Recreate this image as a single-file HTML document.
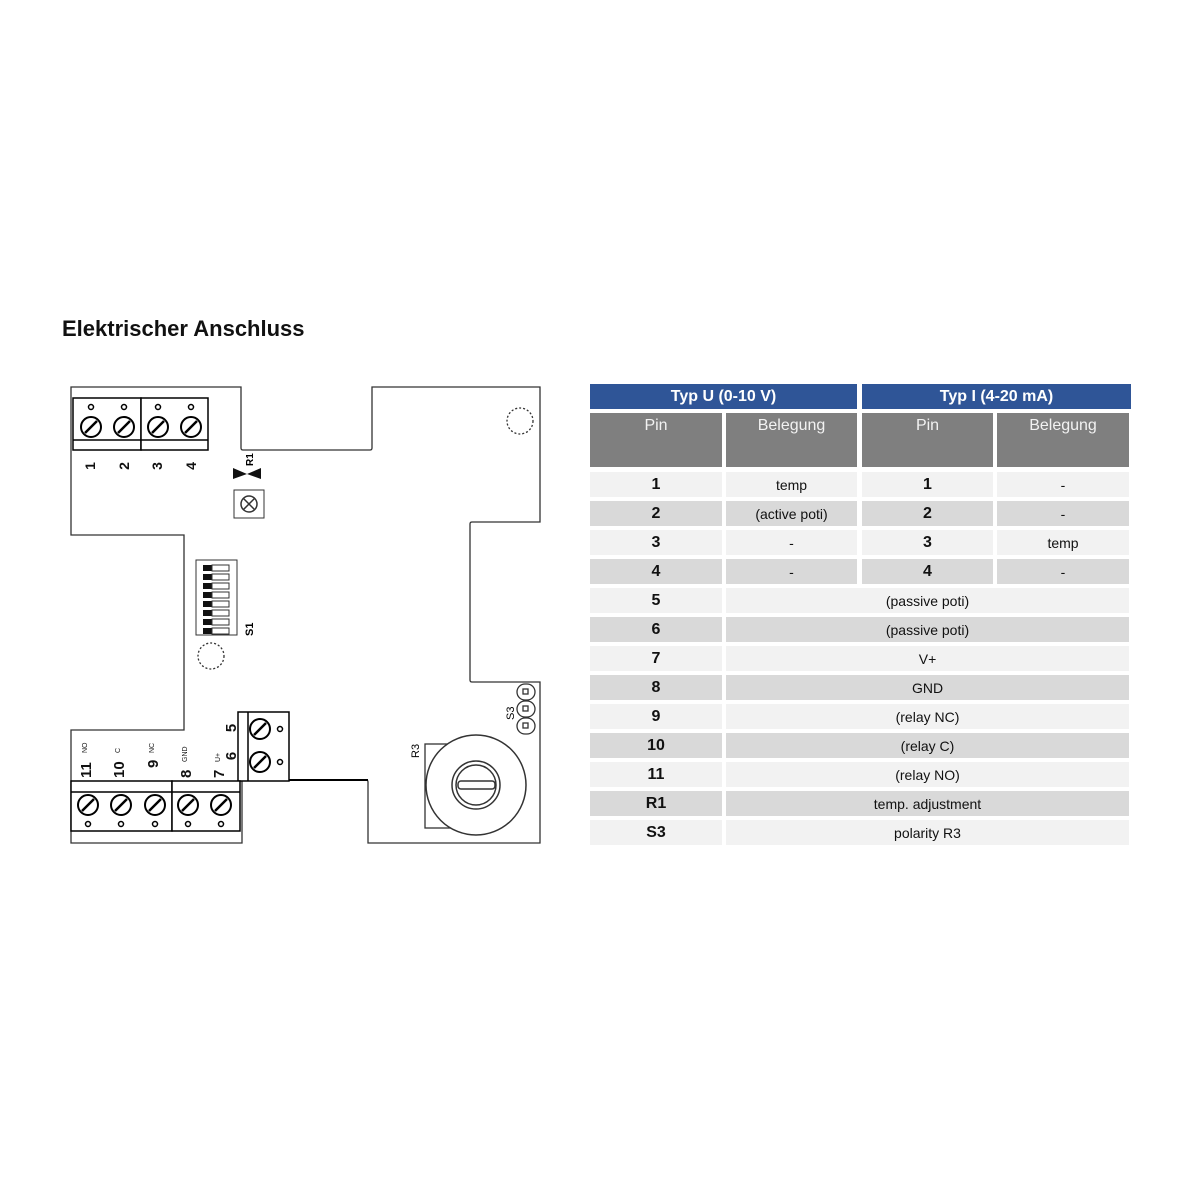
<!DOCTYPE html>
<html><head><meta charset="utf-8"><style>
body{margin:0;width:1200px;height:1200px;background:#fff;position:relative;font-family:"Liberation Sans",Arial,sans-serif;overflow:hidden}
h1{position:absolute;left:62px;top:316px;margin:0;font-size:22px;font-weight:bold;color:#111}
.c{position:absolute;display:flex;align-items:center;justify-content:center;font-size:14px;color:#111}
.b{font-weight:bold;font-size:16px}
.hb{background:#2f5597;color:#fff;font-weight:bold;font-size:16px}
.hg{background:#7f7f7f;color:#f2f2f2;font-size:16px;align-items:flex-start;padding-top:4px;box-sizing:border-box}
.l{background:#f2f2f2}.d{background:#d9d9d9}
</style></head><body>
<h1>Elektrischer Anschluss</h1>
<svg width="1200" height="1200" style="position:absolute;left:0;top:0" font-family="Liberation Sans, sans-serif">
<g fill="none" stroke="#333" stroke-width="1.3">
<path d="M71,387 H241 V448 Q241,450 243,450 H370 Q372,450 372,448 V387 H540 V522 H472 Q470,522 470,524 V680 Q470,682 472,682 H540 V843 H368 V782 Q368,780 366,780 H242 V843 H71 V730 H184 V535 H71 Z"/>
<circle cx="520" cy="421" r="13" stroke-dasharray="2,2"/>
<circle cx="211" cy="656" r="13" stroke-dasharray="2,2"/>
</g>
<!-- top terminal -->
<g stroke="#000" fill="#fff" stroke-width="1.5">
<rect x="73" y="398" width="68" height="52"/><rect x="141" y="398" width="67" height="52"/>
<line x1="73" y1="440" x2="208" y2="440"/>
<g stroke-width="2"><circle cx="91" cy="427" r="10"/><circle cx="124" cy="427" r="10"/><circle cx="158" cy="427" r="10"/><circle cx="191" cy="427" r="10"/></g>
<g stroke-width="2.5"><line x1="85" y1="433" x2="97" y2="421"/><line x1="118" y1="433" x2="130" y2="421"/><line x1="152" y1="433" x2="164" y2="421"/><line x1="185" y1="433" x2="197" y2="421"/></g>
<circle cx="91" cy="407" r="2.5"/><circle cx="124" cy="407" r="2.5"/><circle cx="158" cy="407" r="2.5"/><circle cx="191" cy="407" r="2.5"/>
</g>
<g font-size="14" font-weight="bold" fill="#111">
<text transform="translate(95,466) rotate(-90)" text-anchor="middle">1</text>
<text transform="translate(129,466) rotate(-90)" text-anchor="middle">2</text>
<text transform="translate(162,466) rotate(-90)" text-anchor="middle">3</text>
<text transform="translate(196,466) rotate(-90)" text-anchor="middle">4</text>
</g>
<!-- R1 -->
<path d="M233,468 L247,474 L261,468 V479 L247,474 L233,479 Z" fill="#111"/>
<text transform="translate(253,466) rotate(-90)" font-size="10" font-weight="bold">R1</text>
<rect x="234" y="490" width="30" height="28" fill="#fff" stroke="#333"/>
<circle cx="249" cy="504" r="8" fill="none" stroke="#333" stroke-width="1.5"/>
<path d="M243,498 L255,510 M255,498 L243,510" stroke="#333" stroke-width="1.5"/>
<!-- S1 -->
<rect x="196" y="560" width="41" height="75" fill="#fff" stroke="#333"/>
<g fill="#111">
<rect x="203" y="565" width="9" height="6"/><rect x="203" y="574" width="9" height="6"/><rect x="203" y="583" width="9" height="6"/><rect x="203" y="592" width="9" height="6"/><rect x="203" y="601" width="9" height="6"/><rect x="203" y="610" width="9" height="6"/><rect x="203" y="619" width="9" height="6"/><rect x="203" y="628" width="9" height="6"/>
</g>
<g fill="none" stroke="#333"><rect x="212" y="565" width="17" height="6"/><rect x="212" y="574" width="17" height="6"/><rect x="212" y="583" width="17" height="6"/><rect x="212" y="592" width="17" height="6"/><rect x="212" y="601" width="17" height="6"/><rect x="212" y="610" width="17" height="6"/><rect x="212" y="619" width="17" height="6"/><rect x="212" y="628" width="17" height="6"/></g>
<text transform="translate(253,636) rotate(-90)" font-size="11" font-weight="bold">S1</text>
<!-- S3 -->
<g fill="#fff" stroke="#333" stroke-width="1.3">
<rect x="517" y="684" width="18" height="16" rx="8"/><rect x="517" y="701" width="18" height="16" rx="8"/><rect x="517" y="718" width="18" height="16" rx="8"/>
<rect x="523" y="689" width="5" height="5"/><rect x="523" y="706" width="5" height="5"/><rect x="523" y="723" width="5" height="5"/>
</g>
<text transform="translate(514,720) rotate(-90)" font-size="11">S3</text>
<!-- R3 -->
<text transform="translate(419,758) rotate(-90)" font-size="11">R3</text>
<rect x="425" y="744" width="40" height="84" fill="none" stroke="#333" stroke-width="1.3"/>
<circle cx="476" cy="785" r="50" fill="#fff" stroke="#333" stroke-width="1.5"/>
<circle cx="476" cy="785" r="24" fill="none" stroke="#333" stroke-width="1.5"/>
<circle cx="476" cy="785" r="20" fill="none" stroke="#333" stroke-width="1.5"/>
<rect x="458" y="781" width="37" height="8" rx="3" fill="none" stroke="#333" stroke-width="1.5"/>
<!-- 5/6 terminal -->
<g stroke="#000" fill="#fff" stroke-width="1.5">
<rect x="238" y="712" width="51" height="69"/><line x1="248" y1="712" x2="248" y2="781"/>
<g stroke-width="2"><circle cx="260" cy="729" r="10"/><circle cx="260" cy="762" r="10"/></g>
<g stroke-width="2.5"><line x1="254" y1="735" x2="266" y2="723"/><line x1="254" y1="768" x2="266" y2="756"/></g>
<circle cx="280" cy="729" r="2.5"/><circle cx="280" cy="762" r="2.5"/>
</g>
<line x1="289" y1="780" x2="368" y2="780" stroke="#000" stroke-width="2"/>
<g font-size="15" font-weight="bold" fill="#111">
<text transform="translate(236,728) rotate(-90)" text-anchor="middle">5</text>
<text transform="translate(236,756) rotate(-90)" text-anchor="middle">6</text>
</g>
<!-- bottom terminals -->
<g stroke="#000" fill="#fff" stroke-width="1.5">
<rect x="71" y="781" width="101" height="50"/><rect x="172" y="781" width="68" height="50"/>
<line x1="71" y1="792" x2="240" y2="792"/>
<g stroke-width="2"><circle cx="88" cy="805" r="10"/><circle cx="121" cy="805" r="10"/><circle cx="155" cy="805" r="10"/><circle cx="188" cy="805" r="10"/><circle cx="221" cy="805" r="10"/></g>
<g stroke-width="2.5"><line x1="82" y1="811" x2="94" y2="799"/><line x1="115" y1="811" x2="127" y2="799"/><line x1="149" y1="811" x2="161" y2="799"/><line x1="182" y1="811" x2="194" y2="799"/><line x1="215" y1="811" x2="227" y2="799"/></g>
<circle cx="88" cy="824" r="2.5"/><circle cx="121" cy="824" r="2.5"/><circle cx="155" cy="824" r="2.5"/><circle cx="188" cy="824" r="2.5"/><circle cx="221" cy="824" r="2.5"/>
</g>
<g font-size="15" font-weight="bold" fill="#111">
<text transform="translate(91,778) rotate(-90)">11</text>
<text transform="translate(124,778) rotate(-90)">10</text>
<text transform="translate(158,768) rotate(-90)">9</text>
<text transform="translate(191,778) rotate(-90)">8</text>
<text transform="translate(224,778) rotate(-90)">7</text>
</g>
<g font-size="7" fill="#111">
<text transform="translate(87,753) rotate(-90)">NO</text>
<text transform="translate(120,753) rotate(-90)">C</text>
<text transform="translate(154,753) rotate(-90)">NC</text>
<text transform="translate(187,762) rotate(-90)">GND</text>
<text transform="translate(220,762) rotate(-90)">U+</text>
</g>
</svg>
<div class="c hb" style="left:590px;top:384px;width:267px;height:25px">Typ U (0-10 V)</div>
<div class="c hb" style="left:862px;top:384px;width:269px;height:25px">Typ I (4-20 mA)</div>
<div class="c hg" style="left:590px;top:413px;width:132px;height:54px">Pin</div>
<div class="c hg" style="left:726px;top:413px;width:131px;height:54px">Belegung</div>
<div class="c hg" style="left:862px;top:413px;width:131px;height:54px">Pin</div>
<div class="c hg" style="left:997px;top:413px;width:132px;height:54px">Belegung</div>

<div class="c b l" style="left:590px;top:472px;width:132px;height:25px">1</div>
<div class="c l" style="left:726px;top:472px;width:131px;height:25px">temp</div>
<div class="c b l" style="left:862px;top:472px;width:131px;height:25px">1</div>
<div class="c l" style="left:997px;top:472px;width:132px;height:25px">-</div>

<div class="c b d" style="left:590px;top:501px;width:132px;height:25px">2</div>
<div class="c d" style="left:726px;top:501px;width:131px;height:25px">(active poti)</div>
<div class="c b d" style="left:862px;top:501px;width:131px;height:25px">2</div>
<div class="c d" style="left:997px;top:501px;width:132px;height:25px">-</div>

<div class="c b l" style="left:590px;top:530px;width:132px;height:25px">3</div>
<div class="c l" style="left:726px;top:530px;width:131px;height:25px">-</div>
<div class="c b l" style="left:862px;top:530px;width:131px;height:25px">3</div>
<div class="c l" style="left:997px;top:530px;width:132px;height:25px">temp</div>

<div class="c b d" style="left:590px;top:559px;width:132px;height:25px">4</div>
<div class="c d" style="left:726px;top:559px;width:131px;height:25px">-</div>
<div class="c b d" style="left:862px;top:559px;width:131px;height:25px">4</div>
<div class="c d" style="left:997px;top:559px;width:132px;height:25px">-</div>

<div class="c b l" style="left:590px;top:588px;width:132px;height:25px">5</div>
<div class="c l" style="left:726px;top:588px;width:403px;height:25px">(passive poti)</div>
<div class="c b d" style="left:590px;top:617px;width:132px;height:25px">6</div>
<div class="c d" style="left:726px;top:617px;width:403px;height:25px">(passive poti)</div>
<div class="c b l" style="left:590px;top:646px;width:132px;height:25px">7</div>
<div class="c l" style="left:726px;top:646px;width:403px;height:25px">V+</div>
<div class="c b d" style="left:590px;top:675px;width:132px;height:25px">8</div>
<div class="c d" style="left:726px;top:675px;width:403px;height:25px">GND</div>
<div class="c b l" style="left:590px;top:704px;width:132px;height:25px">9</div>
<div class="c l" style="left:726px;top:704px;width:403px;height:25px">(relay NC)</div>
<div class="c b d" style="left:590px;top:733px;width:132px;height:25px">10</div>
<div class="c d" style="left:726px;top:733px;width:403px;height:25px">(relay C)</div>
<div class="c b l" style="left:590px;top:762px;width:132px;height:25px">11</div>
<div class="c l" style="left:726px;top:762px;width:403px;height:25px">(relay NO)</div>
<div class="c b d" style="left:590px;top:791px;width:132px;height:25px">R1</div>
<div class="c d" style="left:726px;top:791px;width:403px;height:25px">temp. adjustment</div>
<div class="c b l" style="left:590px;top:820px;width:132px;height:25px">S3</div>
<div class="c l" style="left:726px;top:820px;width:403px;height:25px">polarity R3</div>
</body></html>
